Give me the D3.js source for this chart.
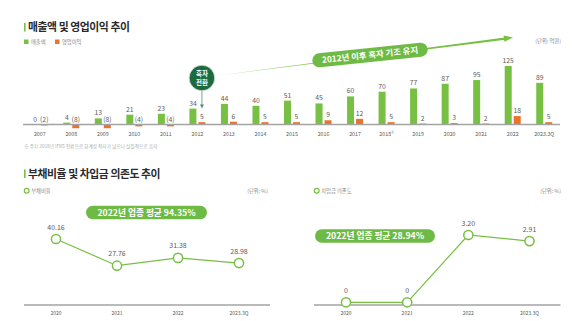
<!DOCTYPE html>
<html><head><meta charset="utf-8">
<script src="https://cdn.jsdelivr.net/npm/d3@7/dist/d3.min.js"></script>
<style>
html,body{margin:0;padding:0;background:#fff;}
svg{display:block;font-family:"Noto Sans CJK KR","Noto Sans",sans-serif;}
</style></head>
<body><svg id="c" width="580" height="321"></svg>
<script>
const years = ["2007","2008","2009","2010","2011","2012","2013","2014","2015","2016","2017","2018","2019","2020","2021","2022","2023.3Q"];
const revenue = [0,4,13,21,23,34,44,40,51,45,60,70,77,87,95,125,89];
const opIncome = [-2,-8,-8,-4,-4,5,6,5,5,9,12,5,2,3,2,18,5];

const lineYears = ["2020","2021","2022","2023.3Q"];
const debtRatio = [40.16,27.76,31.38,28.98];
const debtLabels = ["40.16","27.76","31.38","28.98"];
const borrowDep = [0,0,3.20,2.91];
const borrowLabels = ["0","0","3.20","2.91"];

const GREEN = "#77c043", ORANGE = "#e8732e", DARK = "#1d6a3f", GRAY = "#a3a3a3", TXT = "#5a5a5a";
const svg = d3.select("#c");

// ---------- Section 1 ----------
svg.append("rect").attr("x",24).attr("y",23).attr("width",1.6).attr("height",8.5).attr("fill",GREEN);
svg.append("text").attr("x",28).attr("y",31.3).attr("font-size",10.8).attr("font-weight",700)
  .attr("letter-spacing",-0.4).attr("fill","#2a2a2a").text("매출액 및 영업이익 추이");
svg.append("rect").attr("x",24).attr("y",39.5).attr("width",4.5).attr("height",4.5).attr("fill",GREEN);
svg.append("text").attr("x",31).attr("y",43.8).attr("font-size",5.3).attr("fill","#888").text("매출액");
svg.append("rect").attr("x",55).attr("y",39.5).attr("width",4.5).attr("height",4.5).attr("fill",ORANGE);
svg.append("text").attr("x",62).attr("y",43.8).attr("font-size",5.3).attr("fill","#888").text("영업이익");
svg.append("text").attr("x",561).attr("y",43).attr("text-anchor","end").attr("font-size",5.3).attr("fill","#888").text("(단위: 억원)");

const x = d3.scaleBand().domain(years).range([24,560]).padding(0);
const y = d3.scaleLinear().domain([0,125]).range([124.5,66]);
const bw = 7;
const cx = d => x(d) + x.bandwidth()/2;

const g1 = svg.append("g");
g1.selectAll(".rev").data(years).join("rect")
  .attr("x",(d)=>cx(d)-8).attr("width",bw)
  .attr("y",(d,i)=>y(Math.max(0,revenue[i])))
  .attr("height",(d,i)=>Math.abs(y(revenue[i])-y(0)))
  .attr("fill",GREEN);
g1.selectAll(".op").data(years).join("rect")
  .attr("x",(d)=>cx(d)+1).attr("width",bw)
  .attr("y",(d,i)=>y(Math.max(0,opIncome[i])))
  .attr("height",(d,i)=>Math.abs(y(opIncome[i])-y(0)))
  .attr("fill",ORANGE);
svg.append("line").attr("x1",23).attr("x2",560).attr("y1",y(0)).attr("y2",y(0))
  .attr("stroke",GRAY).attr("stroke-width",1.6);
g1.selectAll(".revl").data(years).join("text")
  .attr("x",d=>cx(d)-8+bw/2).attr("y",(d,i)=>y(revenue[i])-3)
  .attr("text-anchor","middle").attr("font-size",6.8).attr("fill",TXT)
  .text((d,i)=>revenue[i]);
g1.selectAll(".opl").data(years).join("text")
  .attr("x",d=>cx(d)+1+bw/2).attr("y",(d,i)=>y(Math.max(0,opIncome[i]))-3)
  .attr("text-anchor","middle").attr("font-size",6.8).attr("fill",TXT)
  .text((d,i)=>opIncome[i]<0 ? "("+(-opIncome[i])+")" : opIncome[i]);
const xl = g1.selectAll(".yl").data(years).join("text")
  .attr("x",d=>cx(d)).attr("y",135.5)
  .attr("text-anchor","middle").attr("font-size",5.3).attr("fill",TXT);
xl.append("tspan").text(d=>d);
xl.filter(d=>d==="2018").append("tspan").attr("dy",-2.5).attr("font-size",3).text("1)");

svg.append("text").attr("x",24).attr("y",147.5).attr("font-size",4.7).attr("fill","#aaa")
  .text("※ 주1) 2018년 IFRS 전환으로 회계상 적자가 났으나 실질적으로 흑자");

// big trend arrow (wedge)
const a0=[214,76], a1=[505,38.6];
const ang = Math.atan2(a1[1]-a0[1], a1[0]-a0[0]);
const nx = -Math.sin(ang), ny = Math.cos(ang);
const w = 1.2;
svg.append("path").attr("fill",GREEN)
  .attr("d",`M${a0[0]},${a0[1]} L${a1[0]+nx*w},${a1[1]+ny*w} L${a1[0]-nx*w},${a1[1]-ny*w} Z`);
const tip=[513,37.5];
svg.append("path").attr("fill",GREEN)
  .attr("d",`M${tip[0]},${tip[1]} L${a1[0]+nx*3.2-1},${a1[1]+ny*3.2} L${a1[0]-nx*3.2-1},${a1[1]-ny*3.2} Z`);
const pg = svg.append("g").attr("transform","translate(370,55) rotate(-6)");
pg.append("rect").attr("x",-58).attr("y",-7).attr("width",116).attr("height",14).attr("rx",7).attr("fill","#6dbb45");
pg.append("text").attr("x",0).attr("y",3).attr("text-anchor","middle").attr("font-size",8.4)
  .attr("font-weight",700).attr("fill","#fff").text("2012년 이후 흑자 기조 유지");

// 흑자 전환 circle
const c2012 = cx("2012")+1+bw/2;
svg.append("line").attr("x1",c2012).attr("x2",c2012).attr("y1",88).attr("y2",106)
  .attr("stroke","#5a8a6a").attr("stroke-width",0.8);
svg.append("path").attr("fill","#5a8a6a")
  .attr("d",`M${c2012-2},${104.5} L${c2012+2},${104.5} L${c2012},${108.5} Z`);
svg.append("circle").attr("cx",c2012).attr("cy",78).attr("r",12.8).attr("fill",DARK)
  .attr("stroke","#d8e8dc").attr("stroke-width",0.8);
svg.append("text").attr("x",c2012).attr("y",76).attr("text-anchor","middle").attr("font-size",6.5)
  .attr("font-weight",700).attr("fill","#fff").text("흑자");
svg.append("text").attr("x",c2012).attr("y",84.5).attr("text-anchor","middle").attr("font-size",6.5)
  .attr("font-weight",700).attr("fill","#fff").text("전환");

// ---------- Section 2 ----------
svg.append("rect").attr("x",24).attr("y",169.5).attr("width",1.6).attr("height",8.5).attr("fill",GREEN);
svg.append("text").attr("x",28).attr("y",178.3).attr("font-size",10.8).attr("font-weight",700)
  .attr("letter-spacing",-0.4).attr("fill","#2a2a2a").text("부채비율 및 차입금 의존도 추이");

function lineChart(opts){
  const {legend, legX, unitX, range, yScale, vals, labels, pill} = opts;
  svg.append("circle").attr("cx",legX).attr("cy",190.8).attr("r",2.4).attr("fill","#fff")
    .attr("stroke",GREEN).attr("stroke-width",1.2);
  svg.append("text").attr("x",legX+4.5).attr("y",192.8).attr("font-size",5.3).attr("fill","#888").text(legend);
  svg.append("text").attr("x",unitX).attr("y",192.8).attr("text-anchor","end").attr("font-size",5.3).attr("fill","#888").text("(단위: %)");

  const xp = d3.scalePoint().domain(lineYears).range(range);
  svg.append("line").attr("x1",range[0]-32).attr("x2",range[1]+31).attr("y1",305).attr("y2",305)
    .attr("stroke",GRAY).attr("stroke-width",1.4);
  svg.selectAll(null).data(lineYears).join("text")
    .attr("x",d=>xp(d)).attr("y",314.5).attr("text-anchor","middle").attr("font-size",5).attr("fill",TXT).text(d=>d);

  const ln = d3.line().x((d,i)=>xp(lineYears[i])).y(d=>yScale(d));
  svg.append("path").datum(vals).attr("d",ln).attr("fill","none").attr("stroke",GREEN).attr("stroke-width",1.2);
  svg.selectAll(null).data(vals).join("circle")
    .attr("cx",(d,i)=>xp(lineYears[i])).attr("cy",d=>yScale(d)).attr("r",4.6)
    .attr("fill","#fff").attr("stroke",GREEN).attr("stroke-width",1.5);
  svg.selectAll(null).data(vals).join("text")
    .attr("x",(d,i)=>xp(lineYears[i])).attr("y",d=>yScale(d)-9.5)
    .attr("text-anchor","middle").attr("font-size",7).attr("fill",TXT).text((d,i)=>labels[i]);

  svg.append("rect").attr("x",pill.x).attr("y",pill.y).attr("width",pill.w).attr("height",13.5)
    .attr("rx",6.7).attr("fill","#6dbb45");
  svg.append("text").attr("x",pill.x+pill.w/2).attr("y",pill.y+9.8).attr("text-anchor","middle")
    .attr("font-size",8.7).attr("font-weight",700).attr("fill","#fff").text(pill.text);
}

lineChart({legend:"부채비율", legX:26.7, unitX:268, range:[56,239],
  yScale:d3.scaleLinear().domain([27.76,40.16]).range([265.7,239]),
  vals:debtRatio, labels:debtLabels,
  pill:{x:86,y:205.8,w:121,text:"2022년 업종 평균 94.35%"}});

lineChart({legend:"차입금 의존도", legX:316.7, unitX:561, range:[346,529.5],
  yScale:d3.scaleLinear().domain([0,3.2]).range([302.3,235]),
  vals:borrowDep, labels:borrowLabels,
  pill:{x:315,y:229.2,w:120,text:"2022년 업종 평균 28.94%"}});
</script></body></html>
